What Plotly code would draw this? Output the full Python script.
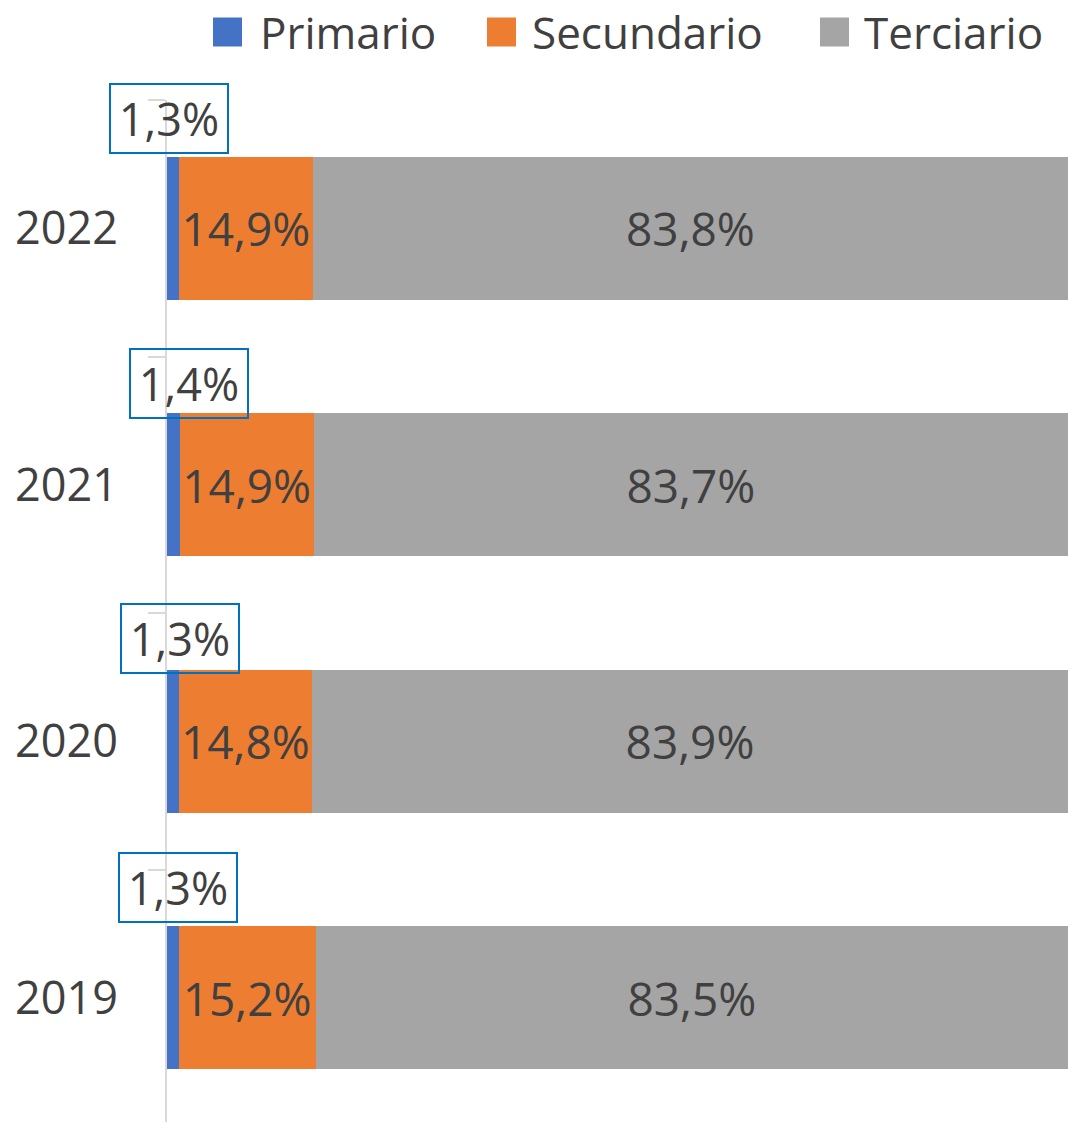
import plotly.graph_objects as go

years = ["2019", "2020", "2021", "2022"]
primario = [1.3, 1.3, 1.4, 1.3]
secundario = [15.2, 14.8, 14.9, 14.9]
terciario = [83.5, 83.9, 83.7, 83.8]
series_names = ["Primario", "Secundario", "Terciario"]
colors = ["#4472c4", "#ed7d31", "#a5a5a5"]

FONT = "Open Sans"
TXT = "#404040"
W, H = 1068, 1122
L, T = 167, 100


def fmt(v):
    return f"{v:.1f}".replace(".", ",") + "%"


fig = go.Figure()
for name, vals, col in zip(series_names, [primario, secundario, terciario], colors):
    show_text = name != "Primario"
    fig.add_trace(go.Bar(
        y=years, x=vals, name=name, orientation="h",
        marker=dict(color=col, line=dict(width=0)),
        text=[fmt(v) for v in vals] if show_text else None,
        textposition="inside" if show_text else "none",
        insidetextanchor="middle",
        textangle=0,
        constraintext="none",
        textfont=dict(family=FONT, size=46, color=TXT),
        showlegend=False,
        hoverinfo="x+y+name",
    ))

# Primary labels in boxes (pixel offsets of manually placed labels)
box_dx = {"2022": -3.4, "2021": 15.7, "2020": 7.6, "2019": 5.1}
box_dy = {"2022": 109.5, "2021": 101.5, "2020": 103, "2019": 110}
for i, (yr, v) in enumerate(zip(years, primario)):
    fig.add_annotation(
        x=v / 2, y=i, xref="x", yref="y", text=fmt(v), showarrow=False,
        xshift=box_dx[yr], yshift=box_dy[yr],
        font=dict(family=FONT, size=45, color=TXT),
        bordercolor="#0070c0", borderwidth=2, borderpad=3, width=110,
        bgcolor="rgba(0,0,0,0)",
    )

# Manual legend
plot_w = W - L
plot_h = H - T
legend_items = [(213, 258), (487, 530), (820, 862)]
sq = 29
yc = 32
for (sx, tx), name, col in zip(legend_items, series_names, colors):
    fig.add_shape(
        type="rect", xref="paper", yref="paper",
        x0=(sx - L) / plot_w, x1=(sx + sq - L) / plot_w,
        y0=(H - (yc + sq / 2)) / plot_h, y1=(H - (yc - sq / 2)) / plot_h,
        fillcolor=col, line=dict(width=0),
    )
    fig.add_annotation(
        x=(tx - L) / plot_w, y=(H - yc) / plot_h, xref="paper", yref="paper",
        xanchor="left", yanchor="middle", text=name, showarrow=False,
        font=dict(family=FONT, size=44, color=TXT),
    )

fig.update_layout(
    width=W, height=H,
    margin=dict(l=L, r=0, t=T, b=0, pad=0),
    barmode="stack", bargap=0.443,
    plot_bgcolor="white", paper_bgcolor="white",
    showlegend=False,
    xaxis=dict(range=[0, 100], showgrid=False, zeroline=False,
               showticklabels=False, showline=False, fixedrange=True),
    yaxis=dict(type="category", categoryorder="array", categoryarray=years,
               range=[-0.484, 3.5], showgrid=False, zeroline=False,
               showline=True, linecolor="#d9d9d9", linewidth=2,
               ticks="outside", tickson="boundaries", ticklen=17,
               tickcolor="#d9d9d9", tickwidth=2,
               ticklabelstandoff=38,
               tickfont=dict(family=FONT, size=45, color=TXT)),
)

fig.write_html("out.html", config={"displayModeBar": False},
               post_script="document.body.style.margin='0';document.body.style.overflow='hidden';")
